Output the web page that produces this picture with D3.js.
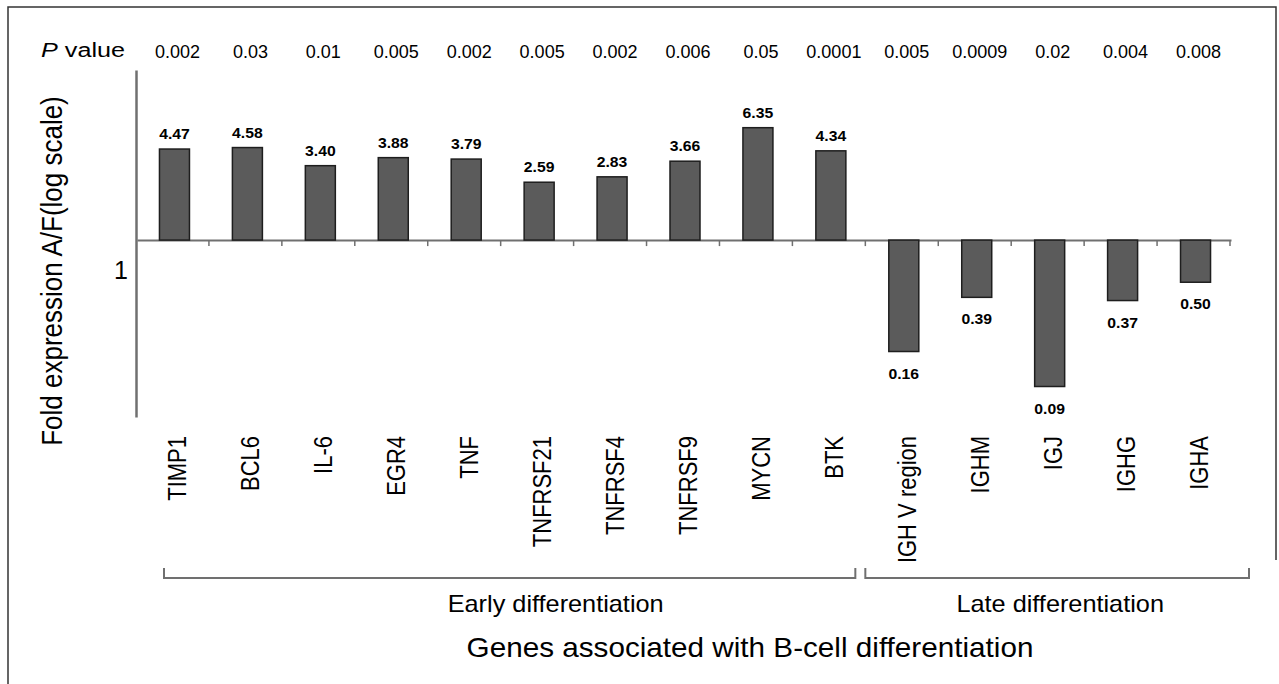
<!DOCTYPE html>
<html>
<head>
<meta charset="utf-8">
<script src="https://cdn.jsdelivr.net/npm/d3@7"></script>
<style>
  html, body { margin: 0; padding: 0; background: #fff; }
  svg { display: block; font-family: "Liberation Sans", Arial, sans-serif; }
</style>
</head>
<body>
<div id="chart"></div>
<script>
// chart values
const genes = ["TIMP1", "BCL6", "IL-6", "EGR4", "TNF", "TNFRSF21", "TNFRSF4", "TNFRSF9", "MYCN", "BTK",
  "IGH V region", "IGHM", "IGJ", "IGHG", "IGHA"];
const foldChange = [4.47, 4.58, 3.40, 3.88, 3.79, 2.59, 2.83, 3.66, 6.35, 4.34, 0.16, 0.39, 0.09, 0.37, 0.50];
const pValues = ["0.002", "0.03", "0.01", "0.005", "0.002", "0.005", "0.002", "0.006", "0.05", "0.0001",
  "0.005", "0.0009", "0.02", "0.004", "0.008"];
const groupNames = ["Early differentiation", "Late differentiation"];
const groupSizes = [10, 5];
const yTicks = [1];

const width = 1279;
const height = 684;
const axisColor = "#707070";

const svg = d3.select("#chart").append("svg")
  .attr("width", width)
  .attr("height", height);

// outer frame
svg.append("path")
  .attr("d", "M8,684 V7 H1276 V560")
  .attr("fill", "none")
  .attr("stroke", "#333")
  .attr("stroke-width", 1.5);

const x = d3.scaleBand().domain(genes).range([137, 1231]);
const y = d3.scaleLog().domain([0.0545, 16.4]).range([417, 70]);
const barW = 30;

// helper: text that is a bit wider than it is tall, like the picture
function label(parent, px, py, str, o) {
  const g = parent.append("g")
    .attr("transform", `translate(${px},${py}) scale(${o.sx || 1},1)` + (o.rot ? " rotate(-90)" : ""));
  const t = g.append("text")
    .attr("text-anchor", o.anchor || "middle")
    .attr("font-size", o.size)
    .attr("font-weight", o.bold ? "bold" : null)
    .attr("fill", "#000")
    .text(str);
  return t;
}

// y axis
const yAxis = svg.append("g")
  .attr("transform", "translate(136,0)")
  .call(d3.axisLeft(y).tickValues(yTicks).tickSize(0).tickSizeOuter(0).tickFormat(d3.format("d")));
yAxis.select(".domain").attr("stroke", axisColor).attr("stroke-width", 2.5);
yAxis.selectAll(".tick text")
  .attr("font-size", 25)
  .attr("font-family", "Liberation Sans, Arial, sans-serif")
  .attr("fill", "#000")
  .attr("x", -8)
  .attr("dy", 38);

// baseline at 1 with ticks on category boundaries
const base = y(1);
const xAxis = svg.append("g")
  .attr("transform", `translate(0,${base})`)
  .call(d3.axisBottom(x).tickSize(0).tickSizeOuter(0).tickFormat(""));
xAxis.select(".domain").attr("stroke", axisColor).attr("stroke-width", 2);
xAxis.selectAll(".tick").remove();
svg.append("g").selectAll("line")
  .data(genes.slice(1).concat(["end"]))
  .join("line")
  .attr("x1", (d, i) => x.range()[0] + x.step() * (i + 1) - 1)
  .attr("x2", (d, i) => x.range()[0] + x.step() * (i + 1) - 1)
  .attr("y1", base)
  .attr("y2", base + 6)
  .attr("stroke", axisColor)
  .attr("stroke-width", 1.5);

// bars
const cx = d => x(d) + x.bandwidth() / 2 + 1;
svg.append("g").selectAll("rect")
  .data(genes)
  .join("rect")
  .attr("x", d => cx(d) - barW / 2)
  .attr("width", barW)
  .attr("y", (d, i) => Math.min(y(foldChange[i]), base))
  .attr("height", (d, i) => Math.abs(y(foldChange[i]) - base))
  .attr("fill", "#5b5b5b")
  .attr("stroke", "#1e1e1e")
  .attr("stroke-width", 1.5);

// value labels and p values
genes.forEach((g, i) => {
  const v = foldChange[i];
  const ly = v >= 1 ? y(v) - 10 : y(v) + 27;
  label(svg, cx(g), ly, v.toFixed(2), { size: 15, bold: true, sx: 1.05 });
  label(svg, cx(g) + 3, 58, pValues[i], { size: 17.5, sx: 1.03 });
  label(svg, cx(g) + 12, 436, g, { size: 22, sx: 1.18, rot: true, anchor: "end" });
});

// "P value" heading
const ph = label(svg, 83, 57, "", { size: 21, sx: 1.2 });
ph.append("tspan").attr("font-style", "italic").text("P");
ph.append("tspan").text(" value");

// group brackets
const pads = [[27, -11], [-1, 18]];
let start = 0;
groupNames.forEach((name, gi) => {
  const first = genes[start];
  const last = genes[start + groupSizes[gi] - 1];
  const x0 = x(first) + pads[gi][0];
  const x1 = x(last) + x.bandwidth() + pads[gi][1];
  svg.append("path")
    .attr("d", `M${x0},568 V578 H${x1} V568`)
    .attr("fill", "none")
    .attr("stroke", axisColor)
    .attr("stroke-width", 2);
  label(svg, (x0 + x1) / 2 + (gi === 0 ? 46 : 3), 612, name, { size: 23, sx: 1.1 });
  start += groupSizes[gi];
});

// axis titles
label(svg, 750, 657, "Genes associated with B-cell differentiation", { size: 28, sx: 1.06 });
label(svg, 62, 271, "Fold expression A/F(log scale)", { size: 26, sx: 1.12, rot: true });
</script>
</body>
</html>
